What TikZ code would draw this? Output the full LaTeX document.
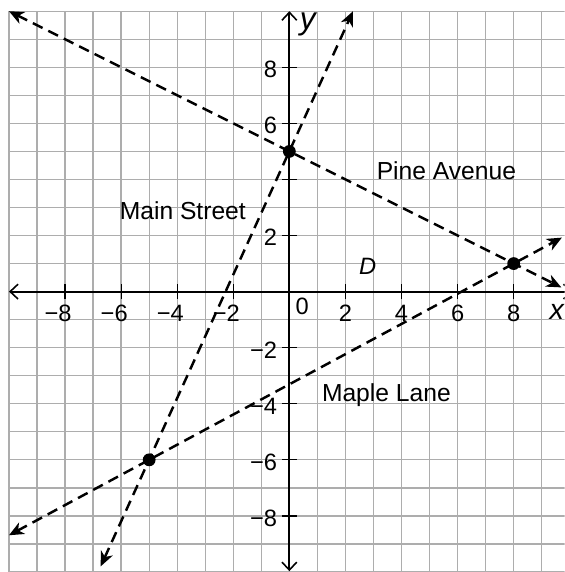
\documentclass[tikz,border=0pt]{standalone}
\usepackage{fontspec}
\setmainfont{Liberation Sans}
\usetikzlibrary{arrows.meta}
\tikzset{
  gridline/.style={draw=black!32, line width=1.3pt},
  axisline/.style={draw=black, line width=2.2pt, -{Straight Barb[length=8pt,width=15pt,line width=1.6pt]}},
  tickmark/.style={draw=black, line width=1.2pt},
  street/.style={draw=black, line width=2.5pt, dash pattern=on 11pt off 6.5pt,
     {Stealth[length=15pt,width=13pt,inset=4.5pt]}-{Stealth[length=15pt,width=13pt,inset=4.5pt]}},
  dot/.style={circle, fill=black, inner sep=0pt, minimum size=13pt},
  numlbl/.style={inner sep=0pt, font=\fontsize{24}{28}\selectfont},
  xnum/.style={numlbl, anchor=base},
  ynum/.style={numlbl, anchor=east},
  streetlbl/.style={inner sep=0pt, anchor=base, font=\fontsize{25}{30}\selectfont},
  axislbl/.style={inner sep=0pt, anchor=base, font=\fontsize{32}{36}\selectfont\itshape}
}
\begin{document}
\begin{tikzpicture}
\useasboundingbox (-10.32,-10) rectangle (9.82,10.4);
\clip (-10.32,-10) rectangle (9.82,10.4);
% grid
\foreach \i in {-10,...,9} \draw[gridline] (\i,-10.5) -- (\i,10);
\foreach \j in {-10,...,10} \draw[gridline] (-10,\j) -- (10.5,\j);
% axes
\coordinate (xl) at (-10,0);
\coordinate (xr) at (10.1,0);
\coordinate (yt) at (0,10);
\coordinate (yb) at (0,-9.97);
\coordinate (o) at (0,0);
\draw[axisline] (o) -- (xl);
\draw[axisline] (o) -- (xr);
\draw[axisline] (o) -- (yt);
\draw[axisline] (o) -- (yb);
% ticks
\foreach \i in {-8,-6,-4,-2,2,4,6,8} {
  \draw[tickmark] (\i,-0.27) -- (\i,0.27);
  \draw[tickmark] (-0.27,\i) -- (0.27,\i);
}
% x labels
\foreach \i in {2,4,6,8} \node[xnum] (xn\i) at (\i,-1.08) {\i};
\foreach \i in {8,6,4,2} \node[xnum] (xm\i) at (-\i,-1.08) {\llap{−}\i};
\node[xnum] (x0) at (0.46,-0.82) {0};
% y labels
\foreach \i in {8,6,2} \node[ynum] (yn\i) at (-0.43,\i-0.07) {\i};
\foreach \i in {2,4,6,8} \node[ynum] (ym\i) at (-0.43,-\i-0.1) {−\i};
% axis letters
\node[axislbl] (ylab) at (0.66,9.36) {y};
\node[axislbl, anchor=base east, font=\fontsize{29}{34}\selectfont\itshape] (xlab) at (9.8,-1.0) {x};
% points
\node[dot] (P) at (0,5) {};
\node[dot] (Q) at (8,1) {};
\node[dot] (R) at (-5,-6) {};
% street end points
\coordinate (pineA) at (-10,10);
\coordinate (pineB) at (9.7,0.15);
\coordinate (mainA) at (-6.73,-9.8);
\coordinate (mainB) at (2.27,10);
\coordinate (mapleA) at (-10,-8.69);
\coordinate (mapleB) at (9.72,1.926);
\draw[street] (pineA) -- (pineB);
\draw[street] (mainA) -- (mainB);
\draw[street] (mapleA) -- (mapleB);
% labels
\node[streetlbl] (pine) at (5.6,4.0) {Pine Avenue};
\node[streetlbl] (main) at (-3.8,2.57) {Main Street};
\node[streetlbl] (maple) at (3.46,-3.93) {Maple Lane};
\node[streetlbl, font=\fontsize{24}{28}\selectfont\itshape] (D) at (2.79,0.61) {D};
\end{tikzpicture}
\end{document}
